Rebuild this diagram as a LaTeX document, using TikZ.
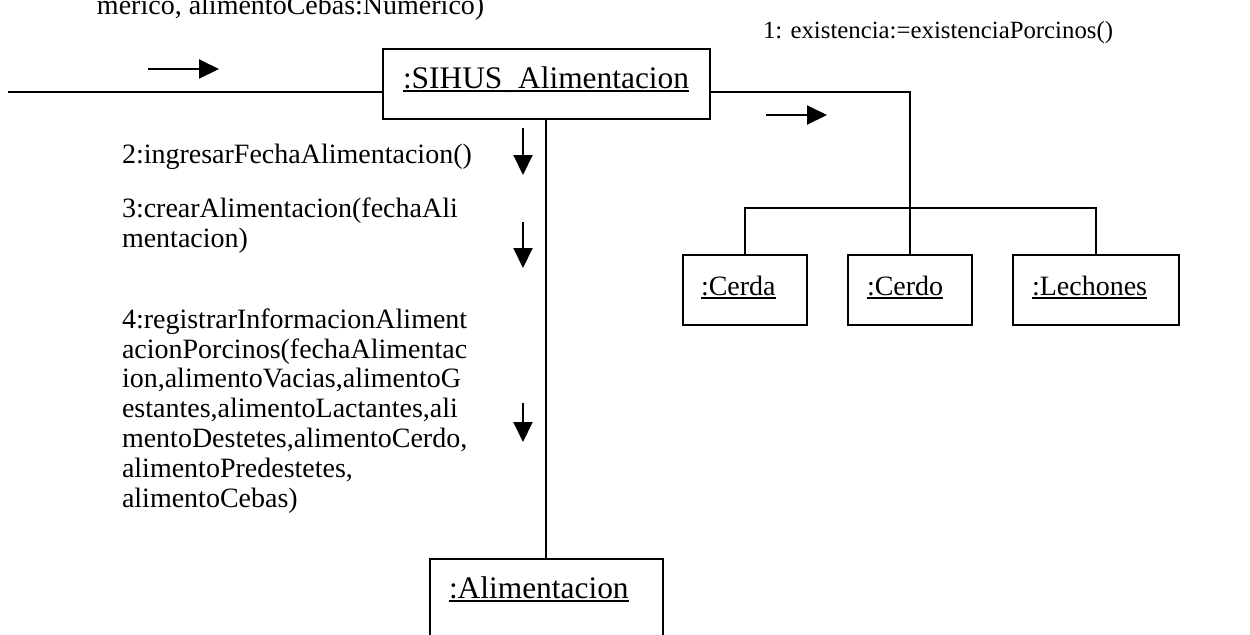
\documentclass[tikz,border=0pt]{standalone}
\usepackage{fontspec}
\setmainfont{Liberation Serif}
\usetikzlibrary{arrows.meta}
\newsavebox\ulbox
\newcommand{\myul}[1]{\sbox\ulbox{#1}\rlap{\rule[-2pt]{\wd\ulbox}{1pt}}\usebox\ulbox}
\begin{document}
\begin{tikzpicture}[x=0.5pt,y=-0.5pt,
  every node/.style={font=\fontsize{14}{14.9}\selectfont, inner sep=0pt, outer sep=0pt},
  objbox/.style={draw, line width=1pt, minimum height=35pt},
  lbl/.style={anchor=base west, align=left},
  bigname/.style={font=\fontsize{15.7}{17}\selectfont},
  smallmsg/.style={font=\fontsize{12.4}{14}\selectfont},
  msg/.style={-{Triangle[length=10pt,width=9.5pt]}, line width=1pt},
  link/.style={line width=1pt}]
\useasboundingbox (0,0) rectangle (1250,634);
\clip (0,0) rectangle (1250,634);

% objects
\node[objbox, minimum width=163.5pt] (sihus) at (546,84) {};
\node[objbox, minimum width=62pt] (cerda) at (745,290) {};
\node[objbox, minimum width=62pt] (cerdo) at (910,290) {};
\node[objbox, minimum width=83pt] (lechones) at (1096,290) {};
\node[objbox, minimum width=116.5pt, minimum height=75pt] (aliment) at (546,634) {};

% object names
\node[lbl, bigname] (tsihus) at (403,88) {\myul{:SIHUS\_Alimentacion}};
\node[lbl] (tcerda) at (701,295) {\myul{:Cerda}};
\node[lbl] (tcerdo) at (867,295) {\myul{:Cerdo}};
\node[lbl] (tlech) at (1032,295) {\myul{:Lechones}};
\node[lbl, bigname] (talim) at (449,598) {\myul{:Alimentacion}};

% message labels (anchored at the baseline of their last line)
\node[lbl] (mtop) at (97,14) {merico, alimentoCebas:Numerico)};
\node[lbl, smallmsg] (m1) at (763,38) {1: existencia:=existenciaPorcinos()};
\node[lbl] (m2) at (122,163) {2:ingresarFechaAlimentacion()};
\node[lbl] (m3) at (122,247.5) {3:crearAlimentacion(fechaAli\\mentacion)};
\node[lbl] (m4) at (122,507) {4:registrarInformacionAliment\\acionPorcinos(fechaAlimentac\\ion,alimentoVacias,alimentoG\\estantes,alimentoLactantes,ali\\mentoDestetes,alimentoCerdo,\\alimentoPredestetes,\\alimentoCebas)};

% links
\coordinate (inL) at (8,92);
\coordinate (bus) at (910,208);
\draw[link] (inL) -- (inL -| sihus.west);
\draw[link] (sihus.east |- inL) -| (cerdo.north);
\draw[link] (cerda.north) |- (bus) -| (lechones.north);
\draw[link] (sihus.south) -- (aliment.north);

% message arrows
\coordinate (a0s) at (148,69); \coordinate (a0e) at (219,69);
\coordinate (a1s) at (766,115); \coordinate (a1e) at (827,115);
\coordinate (d1s) at (523,128); \coordinate (d1e) at (523,175);
\coordinate (d2s) at (523,222); \coordinate (d2e) at (523,268);
\coordinate (d3s) at (523,403); \coordinate (d3e) at (523,442);
\draw[msg] (a0s) -- (a0e);
\draw[msg] (a1s) -- (a1e);
\draw[msg] (d1s) -- (d1e);
\draw[msg] (d2s) -- (d2e);
\draw[msg] (d3s) -- (d3e);
\end{tikzpicture}
\end{document}
